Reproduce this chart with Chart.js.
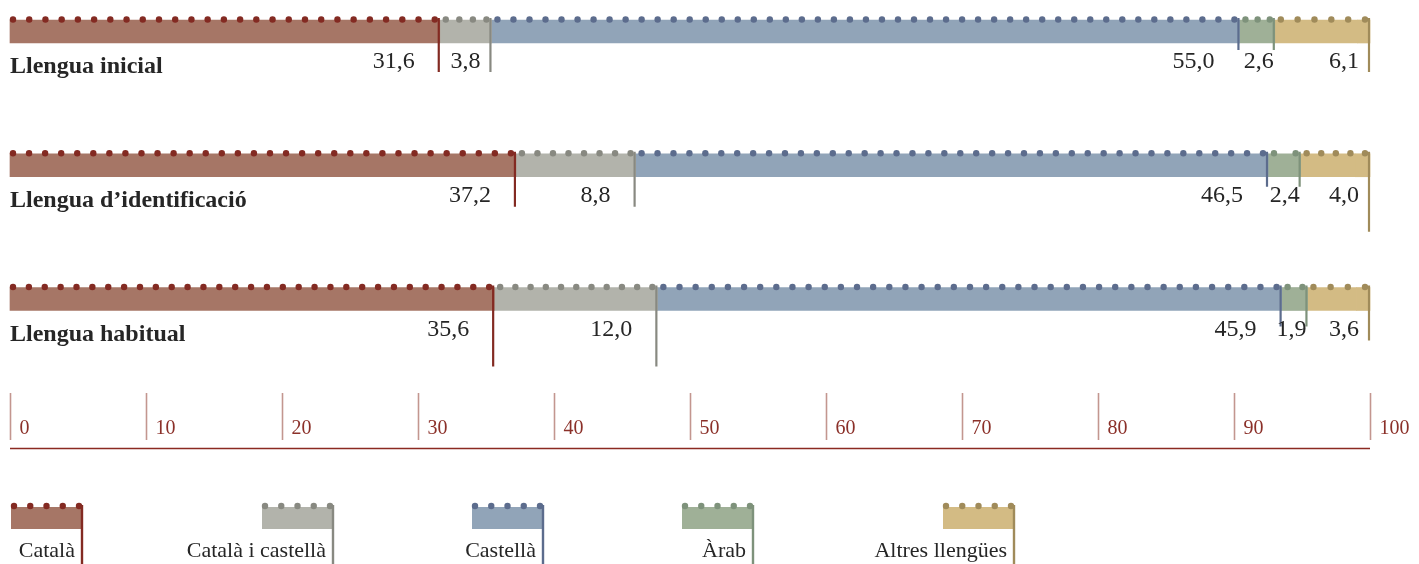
<!DOCTYPE html>
<html>
<head>
<meta charset="utf-8">
<script src="https://cdn.jsdelivr.net/npm/chart.js@4/dist/chart.umd.min.js"></script>
<style>
  html, body { margin: 0; padding: 0; background: #ffffff; }
  #c { display: block; }
</style>
</head>
<body>
<canvas id="c" width="1419" height="564"></canvas>
<script>
// Rows of the chart
const categories = ['Llengua inicial', 'Llengua d\u2019identificació', 'Llengua habitual'];

// Series (percentages per row)
const seriesNames = ['Català', 'Català i castellà', 'Castellà', 'Àrab', 'Altres llengües'];
const catala         = [31.6, 37.2, 35.6];
const catalaCastella = [3.8, 8.8, 12.0];
const castella       = [55.0, 46.5, 45.9];
const arab           = [2.6, 2.4, 1.9];
const altres         = [6.1, 4.0, 3.6];
// remainder up to 100 %, drawn together with "Altres llengües"
const resta          = [0.9, 1.1, 1.0];

// Axis ticks
const tickValues = [0, 10, 20, 30, 40, 50, 60, 70, 80, 90, 100];
const tickLabels = ['0', '10', '20', '30', '40', '50', '60', '70', '80', '90', '100'];

// Styling
const fills   = ['#a67666', '#b2b3ab', '#91a4b8', '#9fb097', '#d3bb84'];
const accents = ['#832a22', '#888981', '#5c6c8d', '#7e927b', '#a08b5a'];
// how far each segment's end rule drops below the bar top (px), per row
const ruleDrop = [
  [52, 52, 30, 30, 52],
  [53, 53, 33, 33, 78],
  [79, 79, 39, 39, 53]
];
const legendRight = [83, 334, 544, 754, 1015];
const serif = '"Liberation Serif", "Times New Roman", serif';
const textColor = '#262626';

const seriesValues = [catala, catalaCastella, castella, arab, altres];

const datasets = seriesValues.map((vals, i) => ({
  label: seriesNames[i],
  data: vals,
  backgroundColor: fills[i],
  borderWidth: 0,
  barThickness: 23,
  clip: false,
  stack: 'total'
}));
datasets.push({
  label: 'Resta',
  data: resta,
  backgroundColor: fills[4],
  borderWidth: 0,
  barThickness: 23,
  clip: false,
  stack: 'total'
});

function fmt(v) {
  return v.toFixed(1).replace('.', ',');
}

const barDecor = {
  id: 'barDecor',
  afterDatasetsDraw(chart) {
    const ctx = chart.ctx;
    ctx.save();
    for (let r = 0; r < categories.length; r++) {
      let bottomY = 0;
      for (let s = 0; s < seriesNames.length; s++) {
        const el = chart.getDatasetMeta(s).data[r];
        const start = el.base;
        const end = (s === seriesNames.length - 1)
          ? chart.getDatasetMeta(seriesNames.length).data[r].x
          : el.x;
        const top = el.y - el.height / 2;
        const bottom = el.y + el.height / 2;
        bottomY = bottom;

        // dotted crest
        const x0 = start + (s === 0 ? 3 : 6), x1 = end - 5;
        const n = Math.max(1, Math.round((x1 - x0) / 16) + 1);
        const step = n > 1 ? (x1 - x0) / (n - 1) : 0;
        ctx.fillStyle = accents[s];
        for (let k = 0; k < n; k++) {
          ctx.beginPath();
          ctx.arc(x0 + k * step, top - 0.5, 3.2, 0, Math.PI * 2);
          ctx.fill();
        }

        // end rule
        ctx.strokeStyle = accents[s];
        ctx.lineWidth = 2.2;
        ctx.beginPath();
        ctx.moveTo(end - 1, top - 2);
        ctx.lineTo(end - 1, top + ruleDrop[r][s]);
        ctx.stroke();

        // value label
        const w = end - start;
        const pad = w > 100 ? 25 : (w > 45 ? 11 : 1);
        ctx.fillStyle = textColor;
        ctx.font = '24px ' + serif;
        ctx.textAlign = 'right';
        ctx.textBaseline = 'alphabetic';
        ctx.fillText(fmt(seriesValues[s][r]), end - pad, bottom + 25);
      }
      // row title
      ctx.fillStyle = textColor;
      ctx.font = 'bold 24px ' + serif;
      ctx.textAlign = 'left';
      ctx.fillText(categories[r], chart.chartArea.left, bottomY + 30);
    }
    ctx.restore();
  }
};

const scaleDecor = {
  id: 'scaleDecor',
  afterDraw(chart) {
    const ctx = chart.ctx;
    const xs = chart.scales.x;
    ctx.save();
    // tick rules and labels
    tickValues.forEach((v, i) => {
      const px = Math.round(xs.getPixelForValue(v)) + 0.5;
      ctx.strokeStyle = '#c3968f';
      ctx.lineWidth = 1.6;
      ctx.beginPath();
      ctx.moveTo(px, 393);
      ctx.lineTo(px, 440);
      ctx.stroke();
      ctx.fillStyle = '#8b3029';
      ctx.font = '20px ' + serif;
      ctx.textAlign = 'left';
      ctx.textBaseline = 'alphabetic';
      ctx.fillText(tickLabels[i], px + 9, 434);
    });
    // base line
    ctx.strokeStyle = '#8b2a22';
    ctx.lineWidth = 1.5;
    ctx.beginPath();
    ctx.moveTo(xs.getPixelForValue(0), 448.5);
    ctx.lineTo(xs.getPixelForValue(100), 448.5);
    ctx.stroke();

    // legend
    seriesNames.forEach((name, i) => {
      const right = legendRight[i];
      const left = right - 72;
      ctx.fillStyle = fills[i];
      ctx.fillRect(left, 507, 72, 22);
      ctx.fillStyle = accents[i];
      for (let k = 0; k < 5; k++) {
        ctx.beginPath();
        ctx.arc(left + 3 + k * 16.25, 506, 3.2, 0, Math.PI * 2);
        ctx.fill();
      }
      ctx.strokeStyle = accents[i];
      ctx.lineWidth = 2.4;
      ctx.beginPath();
      ctx.moveTo(right - 1, 505);
      ctx.lineTo(right - 1, 564);
      ctx.stroke();
      ctx.fillStyle = textColor;
      ctx.font = '22px ' + serif;
      ctx.textAlign = 'right';
      ctx.fillText(name, right - 8, 557);
    });
    ctx.restore();
  }
};

new Chart(document.getElementById('c'), {
  type: 'bar',
  data: { labels: categories, datasets },
  options: {
    indexAxis: 'y',
    responsive: false,
    animation: false,
    layout: { padding: { left: 10, right: 49, top: 31.5, bottom: 265 } },
    scales: {
      x: { type: 'linear', min: 0, max: 100, stacked: true, display: false },
      y: { type: 'category', stacked: true, display: false, offset: false }
    },
    plugins: {
      legend: { display: false },
      tooltip: { enabled: false }
    }
  },
  plugins: [barDecor, scaleDecor]
});
</script>
</body>
</html>
